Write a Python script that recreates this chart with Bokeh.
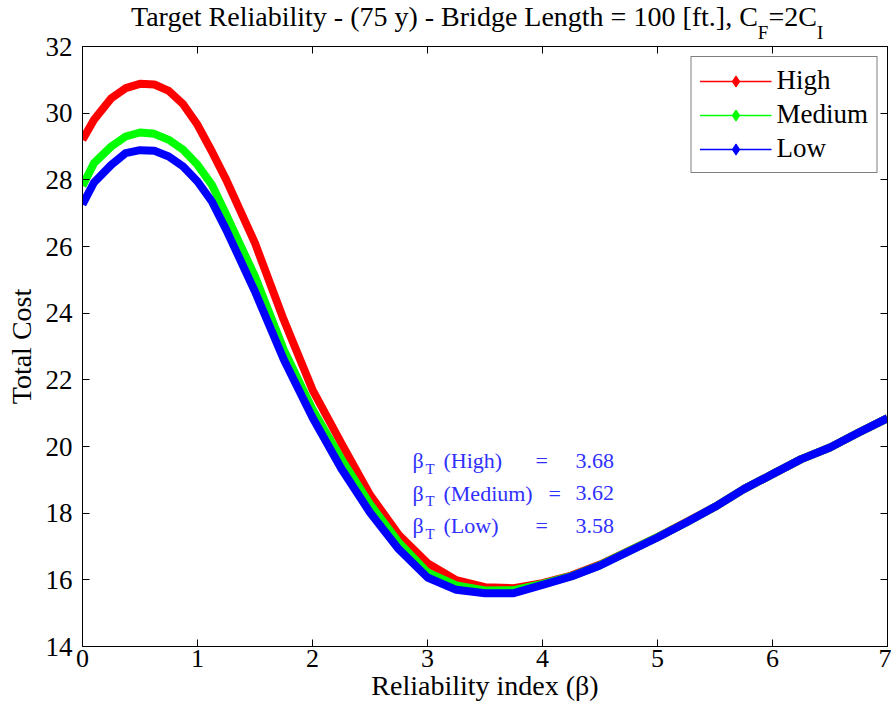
from bokeh.plotting import figure
from bokeh.layouts import column
from bokeh.models import (Range1d, LinearAxis, Label, Legend, LegendItem,
                          FixedTicker, ColumnDataSource, Div)
from bokeh.embed import file_html
from bokeh.resources import INLINE

# ---------------- data ----------------
beta = [0, 0.1, 0.25, 0.375, 0.5, 0.625, 0.75, 0.875, 1.0, 1.125, 1.25, 1.5,
        1.75, 2.0, 2.25, 2.5, 2.75, 3.0, 3.25, 3.5, 3.75, 4.0, 4.25, 4.5,
        4.75, 5.0, 5.25, 5.5, 5.75, 6.0, 6.25, 6.5, 6.75, 7.0]
cost_high = [29.2, 29.8, 30.45, 30.75, 30.88, 30.86, 30.67, 30.27, 29.65, 28.85,
             28.0, 26.1, 23.8, 21.7, 20.1, 18.55, 17.35, 16.5, 15.99, 15.78,
             15.75, 15.9, 16.13, 16.46, 16.87, 17.28, 17.73, 18.19, 18.72,
             19.17, 19.62, 19.97, 20.42, 20.85]
cost_medium = [27.82, 28.5, 29.0, 29.3, 29.42, 29.38, 29.2, 28.9, 28.45, 27.85,
               26.95, 25.1, 22.9, 21.12, 19.63, 18.27, 17.12, 16.22, 15.83,
               15.68, 15.69, 15.88, 16.11, 16.44, 16.86, 17.28, 17.72, 18.19,
               18.72, 19.17, 19.62, 19.97, 20.42, 20.85]
cost_low = [27.26, 27.92, 28.45, 28.8, 28.89, 28.87, 28.7, 28.4, 27.95, 27.35,
            26.5, 24.65, 22.61, 20.87, 19.34, 18.02, 16.92, 16.07, 15.70, 15.6,
            15.6, 15.85, 16.1, 16.43, 16.85, 17.27, 17.72, 18.19, 18.72, 19.17,
            19.62, 19.97, 20.42, 20.85]
series_names = ["High", "Medium", "Low"]
beta_targets = [3.68, 3.62, 3.58]
x_ticks = [0, 1, 2, 3, 4, 5, 6, 7]
y_ticks = [14, 16, 18, 20, 22, 24, 26, 28, 30, 32]

colors = ["#ff0000", "#00ff00", "#0000ff"]
SERIF = "Liberation Serif"
W = 891
TH = 30  # height of title strip (subscripts overflow into the plot's top border)

# ---------------- title (HTML with subscripts) ----------------
sub = '<span style="font-size:19px; vertical-align:-13px; line-height:0">{}</span>'
title_html = ("Target Reliability - (75 y) - Bridge Length = 100 [ft.], C"
              + sub.format("F") + "=2C" + sub.format("I"))
title_div = Div(text=title_html, width=W, height=TH, margin=(0, 0, 0, 0),
                styles={"font-family": SERIF, "font-size": "28px",
                        "color": "black", "white-space": "nowrap",
                        "line-height": "32px", "padding-top": "1px",
                        "padding-left": "131px", "overflow": "visible"})

# ---------------- main plot ----------------
p = figure(width=W, height=715 - TH, output_backend="svg", toolbar_location=None,
           x_range=Range1d(0, 7), y_range=Range1d(14, 32),
           min_border_left=82, min_border_right=4, min_border_top=16,
           min_border_bottom=69)
p.background_fill_color = "white"
p.border_fill_color = None
p.outline_line_color = "black"
p.outline_line_width = 1
p.xgrid.visible = False
p.ygrid.visible = False

def style_axis(ax, ticks, show_labels, font_size="26px"):
    ax.ticker = FixedTicker(ticks=ticks)
    ax.axis_line_color = "black"
    ax.major_tick_line_color = "black"
    ax.major_tick_in = 7
    ax.major_tick_out = 0
    ax.minor_tick_line_color = None
    ax.major_label_text_font = SERIF
    ax.major_label_text_color = "black"
    if show_labels:
        ax.major_label_text_font_size = font_size
    else:
        ax.major_label_text_font_size = "0px"
        ax.major_label_standoff = 0

xa = p.xaxis[0]
ya = p.yaxis[0]
style_axis(xa, x_ticks, True, "26px")
style_axis(ya, y_ticks, True, "27px")
xa.major_label_standoff = 3
ya.major_label_standoff = 10
xa.axis_label = "Reliability index (β)"
ya.axis_label = "Total Cost"
for ax in (xa, ya):
    ax.axis_label_text_font = SERIF
    ax.axis_label_text_font_size = "28px"
    ax.axis_label_text_font_style = "normal"
    ax.axis_label_text_color = "black"
xa.axis_label_standoff = 0
ya.axis_label_standoff = 6

top = LinearAxis()
right = LinearAxis()
style_axis(top, x_ticks, False)
style_axis(right, y_ticks, False)
p.add_layout(top, "above")
p.add_layout(right, "right")

# ---------------- curves ----------------
items = []
nan = float("nan")
for name, ys, c in zip(series_names, [cost_high, cost_medium, cost_low], colors):
    src = ColumnDataSource(dict(x=beta, y=ys))
    p.line("x", "y", source=src, line_color=c, line_width=8, line_join="round")
    lr = p.line(x=[nan], y=[nan], line_color=c, line_width=1.5)
    mr = p.scatter(x=[nan], y=[nan], marker="diamond", size=10,
                   fill_color=c, line_color=c)
    items.append(LegendItem(label=name, renderers=[lr, mr]))

legend = Legend(items=items, location="top_right")
legend.border_line_color = "black"
legend.border_line_width = 1
legend.background_fill_color = "white"
legend.background_fill_alpha = 1
legend.label_text_font = SERIF
legend.label_text_font_size = "27px"
legend.label_text_color = "black"
legend.glyph_width = 72
legend.glyph_height = 28
legend.label_height = 28
legend.spacing = 3
legend.padding = 8
legend.margin = 10
legend.label_standoff = 5
p.add_layout(legend)

# ---------------- beta_T annotations ----------------
def lab(x, y, text, size, color):
    p.add_layout(Label(x=x, y=y, text=text, text_font=SERIF, text_font_size=size,
                       text_align="left", text_baseline="alphabetic",
                       text_color=color))

blue_txt = "#3030ff"
ann_y = [19.58, 18.60, 17.63]
eq_x = [3.939, 4.052, 3.939]
for name, bt, yy, ex in zip(series_names, beta_targets, ann_y, eq_x):
    lab(2.87, yy, "β", "22px", blue_txt)
    lab(2.983, yy - 0.24, "T", "15px", blue_txt)
    lab(3.139, yy, "(" + name + ")", "22px", blue_txt)
    lab(ex, yy, "=", "22px", blue_txt)
    lab(4.287, yy, f"{bt:.2f}", "22px", blue_txt)

layout = column(title_div, p, spacing=0)
open("out.html", "w").write(file_html(layout, INLINE))
